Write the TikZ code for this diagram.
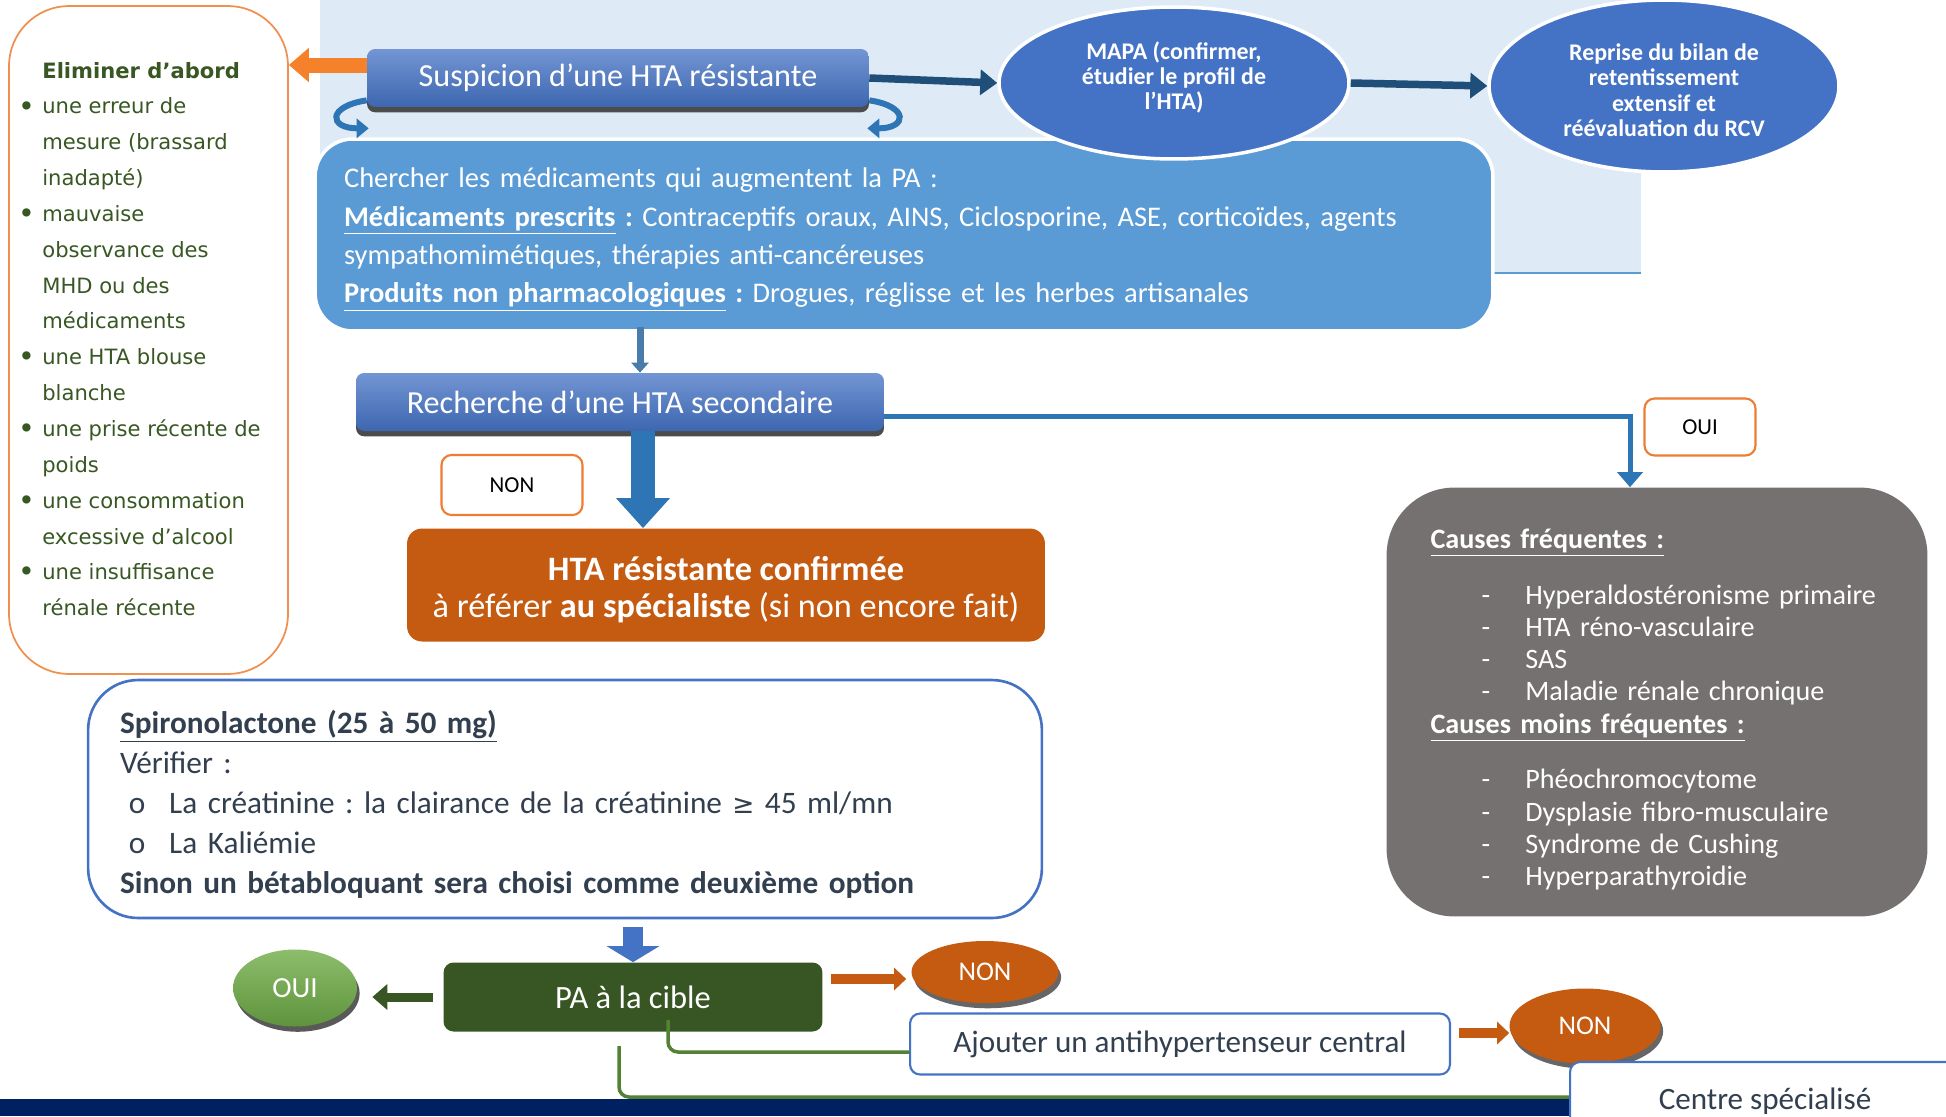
\documentclass[tikz,border=0pt]{standalone}
\usepackage{fontspec}
\setmainfont{Carlito}
\newfontfamily\verdana{DejaVu Sans}
\usepackage{xcolor}
\usetikzlibrary{arrows.meta,shapes.geometric,shadows}
\definecolor{bgblue}{HTML}{DEEBF7}
\definecolor{midblue}{HTML}{5B9BD5}
\definecolor{accblue}{HTML}{4472C4}
\definecolor{darkblue}{HTML}{1F4E79}
\definecolor{lineblue}{HTML}{2E75B6}
\definecolor{rust}{HTML}{C55A11}
\definecolor{orangeline}{HTML}{ED7D31}
\definecolor{brightorange}{HTML}{F5822A}
\definecolor{grayfill}{HTML}{767171}
\definecolor{forest}{HTML}{375623}
\definecolor{leaf}{HTML}{548235}
\definecolor{lime}{HTML}{70AD47}
\definecolor{navy}{HTML}{002060}
\definecolor{slate}{HTML}{323F4F}
\definecolor{elimgreen}{HTML}{385723}
\frenchspacing
\newcommand\elimdot{\llap{\raisebox{-1.2pt}{\scalebox{1.35}{\textbullet}}\hspace{4pt}}}
\newcommand\causedash{\hspace*{29pt}\makebox[25pt][l]{-}}
\newcommand\spirodot{\hspace*{5pt}\makebox[23pt][l]{o}}

\begin{document}
\begin{tikzpicture}[x=0.02cm,y=-0.02cm,
  elimbox/.style={draw=orangeline!85,line width=1pt,rounded corners=1.2cm,minimum width=5.58cm,minimum height=13.36cm,inner sep=0pt},
  elimtext/.style={align=left,inner sep=0pt,text=elimgreen,font=\verdana\fontsize{12}{20.4}\selectfont},
  cherchbox/.style={fill=midblue,draw=white,line width=2pt,rounded corners=0.75cm,minimum width=23.56cm,minimum height=3.84cm,text width=22.4cm,inner xsep=0.58cm,align=left,text=white,font=\fontsize{16.2}{21.8}\selectfont},
  oval/.style={ellipse,fill=accblue,draw=white,line width=2pt,inner sep=0pt,align=center,text=white,font=\bfseries\fontsize{13.6}{14.4}\selectfont},
  bluebox/.style={rounded corners=0.16cm,top color=accblue!75!white,bottom color=accblue!90!black,text=white,minimum width=#1,minimum height=1.16cm,inner sep=0pt,font=\fontsize{18.3}{22}\selectfont,drop shadow={shadow xshift=0pt,shadow yshift=-3pt,fill=black!70,opacity=1}},
  tag/.style={draw=orangeline,line width=1.2pt,fill=white,rounded corners=0.2cm,inner sep=0pt,font=\fontsize{13}{15}\selectfont},
  confbox/.style={fill=rust,rounded corners=0.3cm,minimum width=12.76cm,minimum height=2.26cm,align=center,text=white,font=\fontsize{19.5}{21}\selectfont},
  causebox/.style={fill=grayfill,rounded corners=1.36cm,minimum width=10.82cm,minimum height=8.58cm,text width=9.06cm,inner xsep=0.88cm,align=left,text=white,font=\fontsize{16}{18.3}\selectfont},
  spirobox/.style={draw=accblue,line width=1.5pt,fill=white,rounded corners=1cm,minimum width=19.08cm,minimum height=4.76cm,text width=17.8cm,inner xsep=0.64cm,align=left,text=slate,font=\fontsize{17.8}{22.7}\selectfont},
  pabox/.style={fill=forest,rounded corners=0.2cm,minimum width=7.58cm,minimum height=1.38cm,text=white,font=\fontsize{18.5}{20}\selectfont},
  ouiball/.style={ellipse,inner sep=0pt,minimum width=2.48cm,minimum height=1.54cm,top color=lime!80!white,bottom color=lime!85!black,text=white,font=\fontsize{16.6}{18}\selectfont,drop shadow={shadow xshift=1.5pt,shadow yshift=-3pt,fill=black!65,opacity=1}},
  nonball/.style={ellipse,inner sep=0pt,fill=rust,text=white,font=\fontsize{15.4}{17}\selectfont,drop shadow={shadow xshift=1.5pt,shadow yshift=-3pt,fill=black!60,opacity=1}},
  whitebox/.style={draw=accblue,line width=1.2pt,fill=white,rounded corners=0.2cm,inner sep=0pt,text=slate,font=\fontsize{17.7}{20}\selectfont},
  orangearrow/.style={draw=brightorange,line width=0.3cm,-{Triangle[width=0.66cm,length=0.4cm]}},
  darkarrow/.style={draw=darkblue,line width=0.15cm,-{Triangle[width=0.5cm,length=0.34cm]}},
  curl/.style={draw=lineblue,line width=0.12cm,-{Triangle[width=0.38cm,length=0.24cm]}},
  slimarrow/.style={draw=midblue!80!black,line width=0.14cm,-{Triangle[width=0.34cm,length=0.2cm]}},
  fatarrow/.style={draw=lineblue,line width=0.48cm,-{Triangle[width=1.04cm,length=0.6cm]}},
  secline/.style={draw=lineblue,line width=0.1cm,-{Triangle[width=0.5cm,length=0.3cm]}},
  spiroarrow/.style={draw=accblue,line width=0.4cm,-{Triangle[width=1.04cm,length=0.32cm]}},
  forestarrow/.style={draw=forest,line width=0.18cm,-{Triangle[width=0.5cm,length=0.3cm]}},
  rustarrow/.style={draw=rust,line width=0.2cm,-{Triangle[width=0.44cm,length=0.24cm]}},
  leafline/.style={draw=leaf,line width=0.07cm,rounded corners=0.2cm}]
\useasboundingbox (0,0) rectangle (1946,1116);
\fill[bgblue] (320,0) rectangle (1641,273);
\draw[midblue,line width=1.5pt] (1480,273)--(1641,273);
\fill[navy] (0,1099) rectangle (1946,1116);

\node[elimbox] (elim) at (148.5,340) {};
\node[elimtext,anchor=west] (elimtxt) at (42,339) {\textbf{Eliminer d’abord}\\
\elimdot une erreur de\\ mesure (brassard\\ inadapté)\\
\elimdot mauvaise\\ observance des\\ MHD ou des\\ médicaments\\
\elimdot une HTA blouse\\ blanche\\
\elimdot une prise récente de\\ poids\\
\elimdot une consommation\\ excessive d’alcool\\
\elimdot une insuffisance\\ rénale récente};
\node[cherchbox] (cherch) at (904,235) {\noindent\rule{0pt}{16.4pt}Chercher les médicaments qui augmentent la PA :\\
\textbf{\underline{Médicaments prescrits} :} Contraceptifs oraux, AINS, Ciclosporine, ASE, corticoïdes, agents\\
sympathomimétiques, thérapies anti-cancéreuses\\
\textbf{\underline{Produits non pharmacologiques} :} Drogues, réglisse et les herbes artisanales};
\node[oval,minimum width=7cm,minimum height=3.04cm] (mapa) at (1174,83) {MAPA (confirmer,\\étudier le profil de\\l’HTA)\rule[-8.4pt]{0pt}{8.4pt}};
\node[oval,minimum width=7cm,minimum height=3.44cm] (reprise) at (1664,86) {\rule{0pt}{14.4pt}Reprise du bilan de\\retentissement\\extensif et\\réévaluation du RCV};
\node[bluebox=10.04cm] (susp) at (618,78) {Suspicion d’une HTA résistante};
\node[bluebox=10.56cm] (rech) at (620,402) {Recherche d’une HTA secondaire};
\node[tag,minimum width=2.82cm,minimum height=1.2cm] (nonA) at (512,485) {NON};
\node[confbox] (conf) at (726,585) {\rule{0pt}{18.8pt}\textbf{HTA résistante confirmée}\\à référer \textbf{au spécialiste} (si non encore fait)};
\node[tag,minimum width=2.22cm,minimum height=1.14cm] (ouiA) at (1700,427) {OUI};
\node[causebox] (causes) at (1657,702) {\noindent\rule{0pt}{19.6pt}\textbf{\underline{Causes fréquentes :}}\\[13.5pt]
\causedash Hyperaldostéronisme~primaire\\
\causedash HTA réno-vasculaire\\
\causedash SAS\\
\causedash Maladie rénale chronique\\
\textbf{\underline{Causes moins fréquentes :}}\\[13.5pt]
\causedash Phéochromocytome\\
\causedash Dysplasie fibro-musculaire\\
\causedash Syndrome de Cushing\\
\causedash Hyperparathyroidie};
\node[spirobox] (spiro) at (565,799) {\noindent\rule{0pt}{19pt}\textbf{\underline{Spironolactone (25 à 50 mg)}}\\
Vérifier :\\
\spirodot La créatinine : la clairance de la créatinine {\verdana\fontsize{15}{18}\selectfont ≥} 45 ml/mn\\
\spirodot La Kaliémie\\
\textbf{Sinon un bétabloquant sera choisi comme deuxième option}};
\node[pabox] (pa) at (633,997) {PA à la cible};
\node[ouiball] (ouiB) at (295,988) {OUI};
\node[nonball,minimum width=2.94cm,minimum height=1.24cm] (nonB) at (985,972) {NON};
\node[whitebox,minimum width=10.8cm,minimum height=1.22cm] (ajout) at (1180,1044) {Ajouter un antihypertenseur central};
\node[nonball,minimum width=3.02cm,minimum height=1.5cm] (nonC) at (1585,1026) {NON};
\node[whitebox,minimum width=7.8cm,minimum height=1.56cm] (centre) at (1765,1101) {Centre spécialisé};

\coordinate (o1) at ([yshift=0.26cm]susp.west);
\draw[orangearrow] (o1) -- (o1 -| elim.east);
\draw[curl] ([yshift=0.14cm]susp.south west) .. controls +(-40,6) and +(-40,0) .. +(2,28);
\draw[curl] ([yshift=0.14cm]susp.south east) .. controls +(40,6) and +(40,0) .. +(-2,28);
\draw[darkarrow] (susp.east) -- (mapa.west);
\draw[darkarrow] (mapa.east) -- (reprise.west);
\coordinate (c1) at ([xshift=0.4cm]rech.north);
\draw[slimarrow] ([yshift=0.12cm]c1 |- cherch.south) -- (c1);
\coordinate (c2) at ([xshift=0.46cm]rech.south);
\draw[fatarrow] (c2) -- (c2 |- conf.north);
\coordinate (c3) at ([yshift=-0.28cm]rech.east);
\coordinate (c4) at ([xshift=-0.54cm]causes.north);
\draw[secline] (c3) -| (c4);
\draw[spiroarrow,shorten <=0.16cm] (pa.north |- spiro.south) -- (pa.north);
\draw[forestarrow,shorten <=0.2cm,shorten >=0.3cm] (pa.west) -- (pa.west -| ouiB.east);
\coordinate (c5) at ([yshift=0.36cm]pa.east);
\draw[rustarrow,shorten <=0.16cm,shorten >=0.1cm] (c5) -- (c5 -| nonB.west);
\coordinate (c6) at ([yshift=0.22cm]ajout.east);
\draw[rustarrow,shorten <=0.16cm] (c6) -- (c6 -| nonC.west);
\coordinate (g1) at ([xshift=0.7cm,yshift=0.24cm]pa.south);
\draw[leafline] (g1) |- ([yshift=-0.16cm]ajout.west);
\coordinate (g2) at (619,1046);
\draw[leafline] (g2) |- ([yshift=0.08cm]centre.west);
\end{tikzpicture}
\end{document}
